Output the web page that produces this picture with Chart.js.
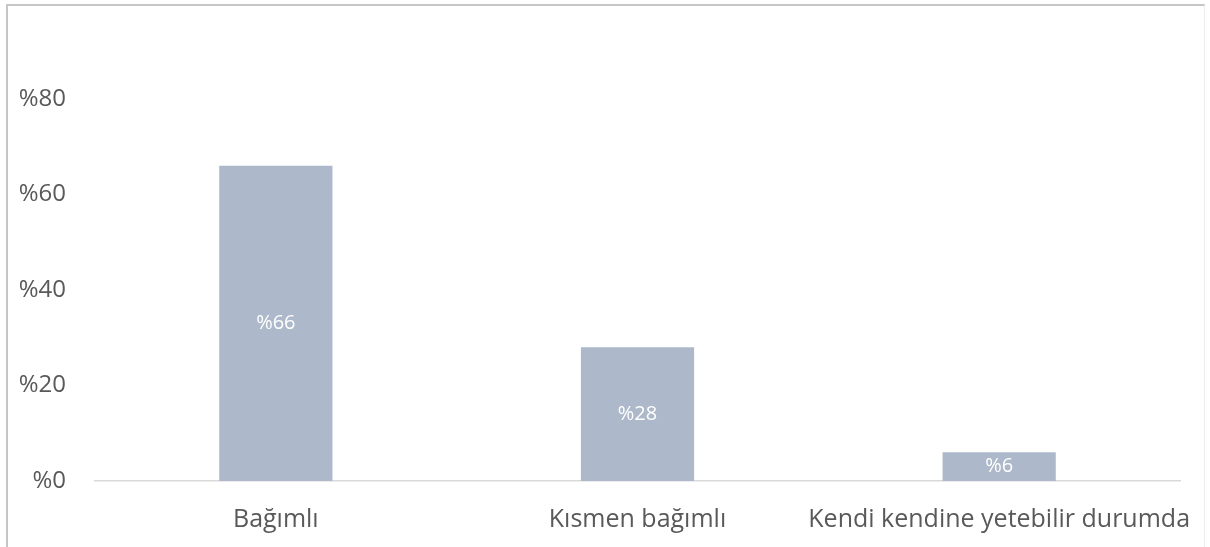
<!DOCTYPE html>
<html>
<head>
<meta charset="utf-8">
<script src="https://cdn.jsdelivr.net/npm/chart.js@4.4.0/dist/chart.umd.min.js"></script>
<style>
  html, body { margin: 0; padding: 0; background: #fff; }
  body { width: 1210px; height: 547px; position: relative; overflow: hidden; }
  #frame {
    position: absolute; left: 6px; top: 4px; width: 1199px; height: 600px;
    border-left: 2px solid #c6c6c6; border-top: 2px solid #c6c6c6; border-right: 1px solid #ececec;
    box-sizing: border-box;
  }
  #wrap { position: absolute; left: 0; top: 0; width: 1210px; height: 547px; }
</style>
</head>
<body>
<div id="frame"></div>
<div id="wrap"><canvas id="depChart"></canvas></div>
<script>
// Dependency levels (percent)
const categories = ["Bağımlı", "Kısmen bağımlı", "Kendi kendine yetebilir durumda"];
const shares = [66, 28, 6];
const yTicks = [0, 20, 40, 60, 80];

const FONT = "'Open Sans', Lato, sans-serif";

// writes the value in the middle of each bar
const barValues = {
  id: "barValues",
  afterDatasetsDraw(chart) {
    const ctx = chart.ctx;
    const meta = chart.getDatasetMeta(0);
    ctx.save();
    ctx.fillStyle = "#ffffff";
    ctx.font = "20px " + FONT;
    ctx.textAlign = "center";
    ctx.textBaseline = "middle";
    meta.data.forEach((bar, i) => {
      const mid = (bar.y + bar.base) / 2;
      ctx.fillText("%" + shares[i], bar.x, mid);
    });
    ctx.restore();
  },
};

const ctx = document.getElementById("depChart").getContext("2d");
const chart = new Chart(ctx, {
  type: "bar",
  data: {
    labels: categories,
    datasets: [
      {
        label: "Oran",
        data: shares,
        backgroundColor: "#adb9ca",
        categoryPercentage: 1,
        barPercentage: 0.313,
      },
    ],
  },
  options: {
    responsive: true,
    maintainAspectRatio: false,
    animation: false,
    layout: { padding: { top: 99, right: 30, left: 0, bottom: 0 } },
    plugins: {
      legend: { display: false },
      tooltip: { enabled: false },
    },
    scales: {
      x: {
        grid: { display: false, drawTicks: false },
        border: { display: true, color: "#d9d9d9", width: 1.5 },
        ticks: {
          color: "#595959",
          font: { family: FONT, size: 25 },
          padding: 24,
          maxRotation: 0,
          autoSkip: false,
        },
        afterFit(scale) {
          // long last label may spill past the axis end, like the original
          scale.height = 547 - 481;
          scale.paddingLeft = 0;
          scale.paddingRight = 0;
        },
      },
      y: {
        min: 0,
        max: 80,
        afterBuildTicks(scale) {
          scale.ticks = yTicks.map((v) => ({ value: v }));
        },
        grid: { display: false, drawTicks: false },
        border: { display: false },
        ticks: {
          color: "#595959",
          font: { family: FONT, size: 24 },
          padding: 29,
          callback: (v) => "%" + v,
        },
        afterFit(scale) {
          scale.width = 95;
        },
      },
    },
  },
  plugins: [barValues],
});
</script>
</body>
</html>
